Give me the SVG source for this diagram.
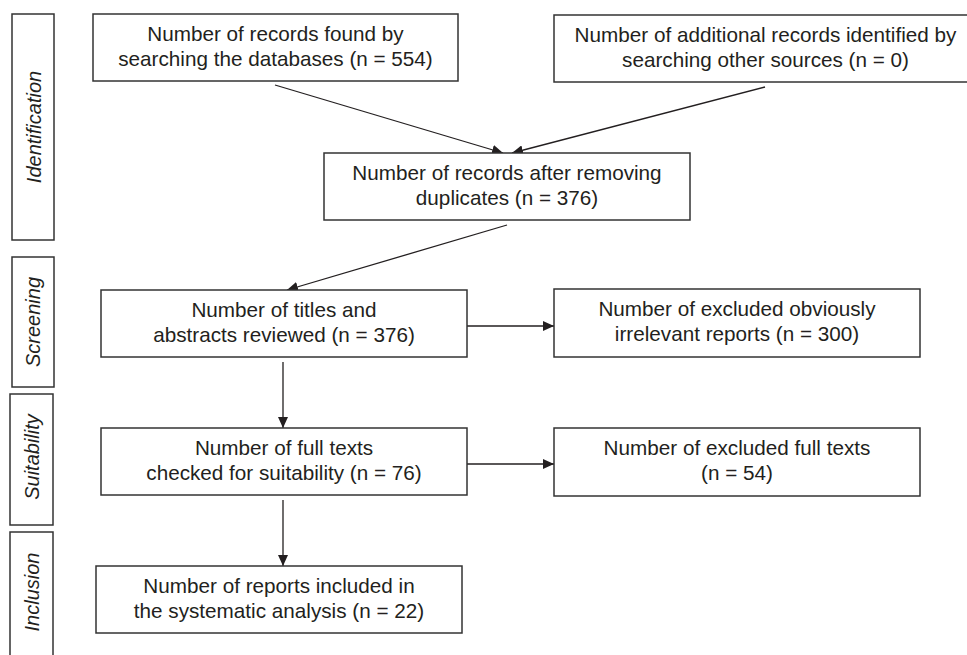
<svg xmlns="http://www.w3.org/2000/svg" width="967" height="655" viewBox="0 0 967 655">
<style>
.box{fill:#fff;stroke:#333;stroke-width:1.5}
.t{font-family:"Liberation Sans",Arial,sans-serif;font-size:20.7px;fill:#231f20;text-anchor:middle}
.s{font-family:"Liberation Sans",Arial,sans-serif;font-size:20px;font-style:italic;fill:#231f20;text-anchor:middle}
.c{fill:none;stroke:#231f20;stroke-width:1.3}
</style>
<defs>
<marker id="ah" markerUnits="userSpaceOnUse" markerWidth="12" markerHeight="10" refX="11" refY="5" orient="auto">
<path d="M0,0 L11,5 L0,10 Z" fill="#231f20"/>
</marker>
</defs>
<rect width="967" height="655" fill="#fff"/>
<g id="stage-identification"><rect class="box" x="12" y="14" width="42" height="226"/><text class="s" transform="translate(41,127) rotate(-90)">Identification</text></g>
<g id="stage-screening"><rect class="box" x="12" y="257" width="42" height="130"/><text class="s" transform="translate(40,322) rotate(-90)">Screening</text></g>
<g id="stage-suitability"><rect class="box" x="10" y="394" width="43" height="131"/><text class="s" transform="translate(39,457) rotate(-90)">Suitability</text></g>
<g id="stage-inclusion"><rect class="box" x="10" y="532" width="43" height="140"/><text class="s" transform="translate(39,592) rotate(-90)">Inclusion</text></g>
<g id="connectors">
<line class="c" x1="275" y1="85" x2="503" y2="153" marker-end="url(#ah)"/>
<line class="c" x1="765" y1="87" x2="512" y2="153" marker-end="url(#ah)"/>
<line class="c" x1="507" y1="225" x2="287" y2="290" marker-end="url(#ah)"/>
<line class="c" x1="467" y1="326" x2="554" y2="326" marker-end="url(#ah)"/>
<line class="c" x1="283" y1="362" x2="283" y2="428" marker-end="url(#ah)"/>
<line class="c" x1="467" y1="464" x2="554" y2="464" marker-end="url(#ah)"/>
<line class="c" x1="283" y1="500" x2="283" y2="566" marker-end="url(#ah)"/>
</g>
<g id="n1"><rect class="box" x="93" y="14" width="365" height="67"/><text class="t" x="275.5" y="41">Number of records found by</text><text class="t" x="275.5" y="66">searching the databases (n = 554)</text></g>
<g id="n2"><rect class="box" x="554" y="15" width="424" height="67"/><text class="t" x="765.5" y="42">Number of additional records identified by</text><text class="t" x="765.5" y="67">searching other sources (n = 0)</text></g>
<g id="n3"><rect class="box" x="324" y="153" width="366" height="67"/><text class="t" x="507" y="180">Number of records after removing</text><text class="t" x="507" y="205">duplicates (n = 376)</text></g>
<g id="n4"><rect class="box" x="101" y="290" width="366" height="67"/><text class="t" x="284" y="317">Number of titles and</text><text class="t" x="284" y="342">abstracts reviewed (n = 376)</text></g>
<g id="n5"><rect class="box" x="554" y="289" width="366" height="68"/><text class="t" x="737" y="316">Number of excluded obviously</text><text class="t" x="737" y="341">irrelevant reports (n = 300)</text></g>
<g id="n6"><rect class="box" x="101" y="428" width="366" height="67"/><text class="t" x="284" y="455">Number of full texts</text><text class="t" x="284" y="480">checked for suitability (n = 76)</text></g>
<g id="n7"><rect class="box" x="554" y="428" width="366" height="68"/><text class="t" x="737" y="455">Number of excluded full texts</text><text class="t" x="737" y="480">(n = 54)</text></g>
<g id="n8"><rect class="box" x="96" y="566" width="366" height="67"/><text class="t" x="279" y="593">Number of reports included in</text><text class="t" x="279" y="618">the systematic analysis (n = 22)</text></g>
</svg>
